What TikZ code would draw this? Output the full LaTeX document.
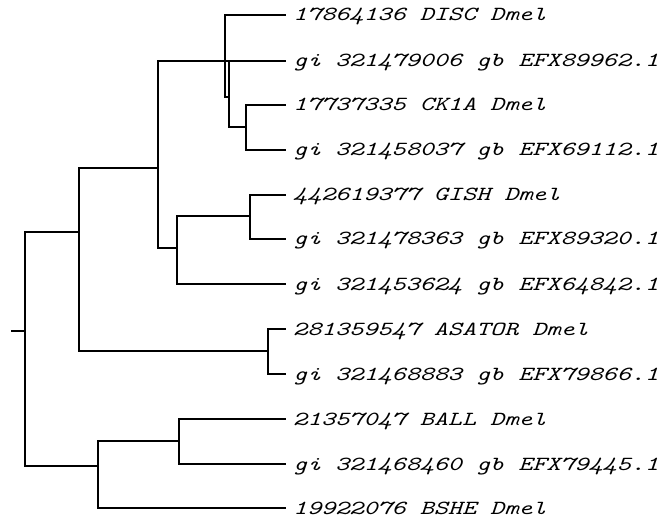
\documentclass[tikz,border=0pt]{standalone}
\usepackage{graphicx}
\tikzset{
  br/.style={line width=2pt, line cap=rect, black},
  lab/.style={font=\fontsize{20}{24}\selectfont\ttfamily\itshape, anchor=base west, inner sep=0pt},
}
\newcommand{\wlab}[1]{\scalebox{1.34}[1]{#1}}
\begin{document}
\begin{tikzpicture}[x=1pt,y=-1pt]
\useasboundingbox (0,0) rectangle (658,521);
% leaf tips
\foreach \n/\yy in {1/15,2/61,3/105,4/150,5/195,6/239,7/284,8/329,9/374,10/419,11/464,12/508}
  \coordinate (t\n) at (285,\yy);
% internal nodes
\coordinate (r0) at (12,331);
\coordinate (r) at (25,331);
\coordinate (a) at (79,232);
\coordinate (b) at (158,168);
\coordinate (c1) at (225,61);
\coordinate (c2) at (229,97);
\coordinate (d) at (246,127);
\coordinate (e) at (177,248);
\coordinate (h) at (250,216);
\coordinate (f) at (268,351);
\coordinate (g) at (98,466);
\coordinate (k) at (179,441);
% labels
\node[lab] (l1) at (293,21) {\wlab{17864136 DISC Dmel}};
\node[lab] (l2) at (293,67) {\wlab{gi 321479006 gb EFX89962.1}};
\node[lab] (l3) at (293,111) {\wlab{17737335 CK1A Dmel}};
\node[lab] (l4) at (293,156) {\wlab{gi 321458037 gb EFX69112.1}};
\node[lab] (l5) at (293,201) {\wlab{442619377 GISH Dmel}};
\node[lab] (l6) at (293,245) {\wlab{gi 321478363 gb EFX89320.1}};
\node[lab] (l7) at (293,290) {\wlab{gi 321453624 gb EFX64842.1}};
\node[lab] (l8) at (293,335) {\wlab{281359547 ASATOR Dmel}};
\node[lab] (l9) at (293,380) {\wlab{gi 321468883 gb EFX79866.1}};
\node[lab] (l10) at (293,425) {\wlab{21357047 BALL Dmel}};
\node[lab] (l11) at (293,470) {\wlab{gi 321468460 gb EFX79445.1}};
\node[lab] (l12) at (293,514) {\wlab{19922076 BSHE Dmel}};
% root
\draw[br] (r0) -- (r);
\draw[br] (r |- a) -- (r |- g);
\draw[br] (r |- a) -- (a);
\draw[br] (r |- g) -- (g);
% a
\draw[br] (a |- b) -- (a |- f);
\draw[br] (a |- b) -- (b);
\draw[br] (a |- f) -- (f);
% b
\draw[br] (b |- t2) -- (b |- e);
\draw[br] (b |- t2) -- (t2);
\draw[br] (b |- e) -- (e);
% c1
\draw[br] (c1 |- t1) -- (c1 |- c2) -- (c2);
\draw[br] (c1 |- t1) -- (t1);
% c2
\draw[br] (c2 |- t2) -- (c2 |- d) -- (d);
% d
\draw[br] (d |- t3) -- (d |- t4);
\draw[br] (d |- t3) -- (t3);
\draw[br] (d |- t4) -- (t4);
% e
\draw[br] (e |- h) -- (e |- t7);
\draw[br] (e |- h) -- (h);
\draw[br] (e |- t7) -- (t7);
% h
\draw[br] (h |- t5) -- (h |- t6);
\draw[br] (h |- t5) -- (t5);
\draw[br] (h |- t6) -- (t6);
% f
\draw[br] (f |- t8) -- (f |- t9);
\draw[br] (f |- t8) -- (t8);
\draw[br] (f |- t9) -- (t9);
% g
\draw[br] (g |- k) -- (g |- t12);
\draw[br] (g |- k) -- (k);
\draw[br] (g |- t12) -- (t12);
% k
\draw[br] (k |- t10) -- (k |- t11);
\draw[br] (k |- t10) -- (t10);
\draw[br] (k |- t11) -- (t11);
\end{tikzpicture}
\end{document}
